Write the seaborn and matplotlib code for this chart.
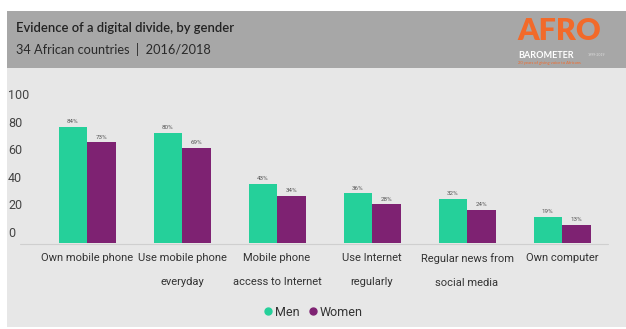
import matplotlib
matplotlib.use("Agg")
import matplotlib.pyplot as plt
import matplotlib.font_manager as fm
from matplotlib.patches import Rectangle
from matplotlib.lines import Line2D
from matplotlib.transforms import ScaledTranslation
import seaborn as sns
import pandas as pd

categories = ["Own mobile phone", "Use mobile phone\neveryday", "Mobile phone\naccess to Internet",
              "Use Internet\nregularly", "Regular news from\nsocial media", "Own computer"]
men = [84, 80, 43, 36, 32, 19]
women = [73, 69, 34, 28, 24, 13]
series = ["Men", "Women"]
yticks = [0, 20, 40, 60, 80, 100]

colors = {"Men": "#25d09a", "Women": "#7e2272"}

names = {f.name for f in fm.fontManager.ttflist}
narrow = "Liberation Sans Narrow" if "Liberation Sans Narrow" in names else "Roboto"

sns.set_theme(style="white")
plt.rcParams["font.family"] = ["Lato", "DejaVu Sans"]

df = pd.DataFrame({
    "category": categories * 2,
    "value": men + women,
    "gender": [series[0]] * len(men) + [series[1]] * len(women),
})

W, H = 626, 329
fig = plt.figure(figsize=(W / 100, H / 100), dpi=100)
fig.patch.set_facecolor("white")

def px_rect(x0, y0, x1, y1, color):
    fig.patches.append(Rectangle((x0 / W, 1 - y1 / H), (x1 - x0) / W, (y1 - y0) / H,
                                 transform=fig.transFigure, facecolor=color, edgecolor="none", zorder=-10))

px_rect(7, 11, W, 68, "#a7a7a7")
px_rect(7, 68, W, 327, "#e7e7e7")

ax_l, ax_r, ax_t, ax_b = 40, 608, 90, 243
ax = fig.add_axes([ax_l / W, 1 - ax_b / H, (ax_r - ax_l) / W, (ax_b - ax_t) / H])
ax.set_facecolor("none")
ax.set_zorder(5)

sns.barplot(data=df, x="category", y="value", hue="gender", palette=colors,
            width=0.6, ax=ax, legend=False, saturation=1, linewidth=0)

for c in ax.containers:
    ax.bar_label(c, fmt="%d%%", fontsize=4.5, color="#555555", padding=2, family=narrow)

ax.set_xlim(-0.495, 5.484)
ax.set_ylim(0, 110.9)
ax.set_yticks(yticks)
ax.set_yticklabels([str(v) for v in yticks], fontsize=9, color="#444444", family=narrow, ha="left")
ax.tick_params(axis="y", length=0, pad=23)
for lab in ax.get_yticklabels():
    lab.set_transform(lab.get_transform() + ScaledTranslation(0, 11 / 100, fig.dpi_scale_trans))
ax.set_xticks(range(len(categories)))
ax.set_xticklabels(categories, fontsize=8, color="#333333", family=narrow, linespacing=2.8)
ax.tick_params(axis="x", length=0, pad=7)
ax.set_xlabel("")
ax.set_ylabel("")
for s in ["left", "right", "top", "bottom"]:
    ax.spines[s].set_visible(False)
fig.add_artist(Line2D([20 / W, 608 / W], [1 - 243.5 / H, 1 - 243.5 / H], transform=fig.transFigure,
                      color="#cfcfcf", linewidth=0.8, zorder=1))

# header
fig.text(16 / W, 1 - 28 / H, "Evidence of a digital divide, by gender", fontsize=9.4,
         fontweight="semibold", color="#222222", va="center", ha="left")
fig.text(16 / W, 1 - 50 / H, "34 African countries  |  2016/2018", fontsize=9.2,
         color="#2a2a2a", va="center", ha="left")

# logo
fig.text(517 / W, 1 - 31 / H, "AFRO", fontsize=22, fontweight="heavy", color="#f26a2a",
         va="center", ha="left")
fig.text(518 / W, 1 - 55 / H, "BAROMETER", fontsize=6.5, fontweight="bold", color="white",
         va="center", ha="left")
fig.text(588 / W, 1 - 55 / H, "1999-2019", fontsize=2.5, color="#dddddd", va="center", ha="left")
fig.text(518 / W, 1 - 63 / H, "20 years of giving voice to Africans", fontsize=3, color="#f26a2a",
         va="center", ha="left")

# legend
handles = [Line2D([], [], marker="o", linestyle="none", markersize=5, color=colors[s]) for s in series]
fig.legend(handles, series, loc="center", bbox_to_anchor=(313 / W, 1 - 312 / H), ncol=2,
           frameon=False, handletextpad=0.2, columnspacing=0.6, handlelength=0.8,
           prop={"family": narrow, "size": 9})
for t in fig.legends[0].get_texts():
    t.set_color("#333333")

fig.savefig("out.png", dpi=100)
